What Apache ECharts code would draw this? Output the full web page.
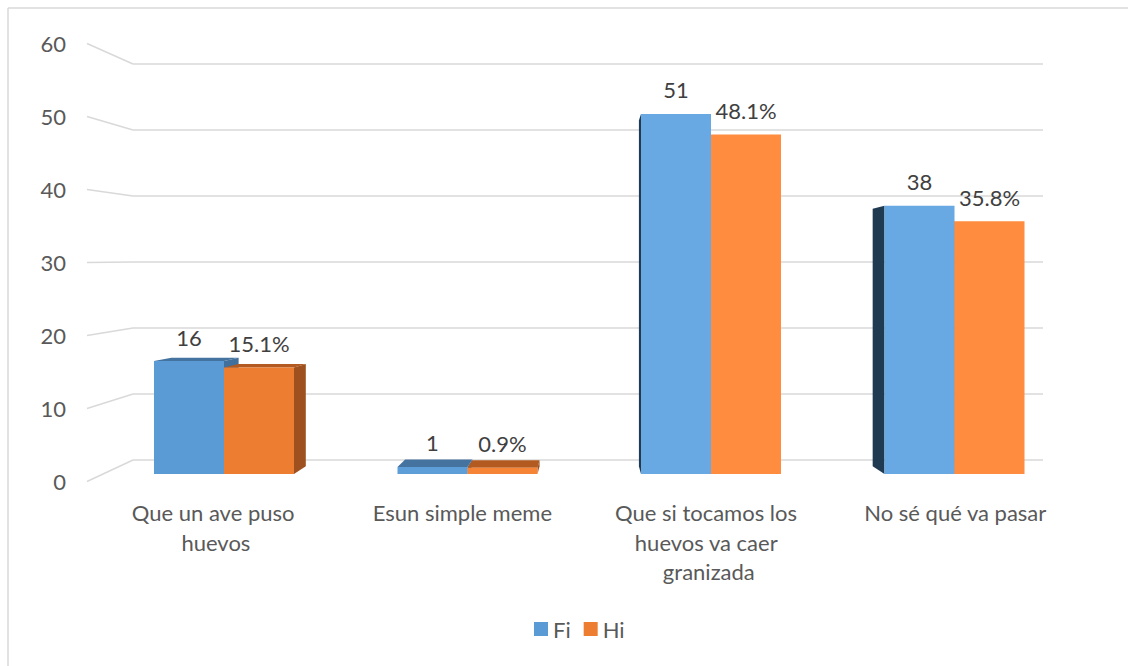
<!DOCTYPE html>
<html>
<head>
<meta charset="utf-8">
<script src="https://cdn.jsdelivr.net/npm/echarts@6/dist/echarts.min.js"></script>
<style>html,body{margin:0;padding:0;background:#fff;overflow:hidden}#c{width:1128px;height:666px}</style>
</head>
<body>
<div id="c"></div>
<script>
const categories = ['Que un ave puso huevos', 'Esun simple meme', 'Que si tocamos los huevos va caer granizada', 'No sé qué va pasar'];
const fiValues = [16, 1, 51, 38];
const hiValues = [15.1, 0.9, 48.1, 35.8];
const yTicks = [0, 10, 20, 30, 40, 50, 60];

const FONT = 'Lato, Calibri, Carlito, sans-serif';
const FS = 22;
const VX = 589, VY = 280, K = 0.04, BAR_RATIO = 0.2875;
const chart = echarts.init(document.getElementById('c'), null, {renderer: 'svg'});

function hex(c){return [1,3,5].map(i=>parseInt(c.substr(i,2),16));}
function mix(a,b,t){const A=hex(a),B=hex(b);return 'rgb('+A.map((v,i)=>Math.round(v+(B[i]-v)*t)).join(',')+')';}

function barRenderer(side, col, fmt){
  return function(params, api){
    const i = api.value(0), v = api.value(1);
    const base = api.coord([i, 0]);
    const topP = api.coord([i, v]);
    const band = api.size([1, 0])[0];
    const w = band * BAR_RATIO;
    const xl = side < 0 ? base[0] - w : base[0];
    const xr = xl + w;
    const yt = topP[1], yb = base[1];
    const back = (x, y) => [x + (VX - x) * K, y + (VY - y) * K];
    const t = Math.min(1, Math.max(0, ((xl + xr) / 2 - 350) / 330));
    const ch = [];
    if (VY < yt) ch.push({type:'polygon', z2:1, shape:{points:[[xl,yt],[xr,yt],back(xr,yt),back(xl,yt)]}, style:{fill: col.top}});
    if (VX > xr) ch.push({type:'polygon', z2:1, shape:{points:[[xr,yt],[xr,yb],back(xr,yb),back(xr,yt)]}, style:{fill: col.right}});
    if (VX < xl) ch.push({type:'polygon', z2:1, shape:{points:[[xl,yt],[xl,yb],back(xl,yb),back(xl,yt)]}, style:{fill: col.left}});
    ch.push({type:'rect', z2:10, shape:{x:xl, y:yt, width:w, height:yb-yt}, style:{fill: mix(col.front, col.light, t)}});
    ch.push({type:'text', z2:20, style:{text: fmt(v), x:(xl+xr)/2, y: yt - 24, align:'center', verticalAlign:'middle', fill:'#404040', font: FS + 'px ' + FONT}});
    return {type:'group', children: ch};
  };
}

function sideWallRenderer(params, api){
  const v = api.value(1);
  const p1 = api.coord([0, v]);
  const x2 = api.coord([1, v])[0];
  let y2 = p1[1];
  try { y2 = chart.convertToPixel({yAxisIndex: 0}, v); } catch (e) {}
  return {type:'line', shape:{x1:p1[0], y1:p1[1], x2:x2, y2:y2}, style:{stroke:'#D9D9D9', lineWidth:1.5}};
}

const labelStyle = {color:'#595959', fontSize:FS, fontFamily:FONT};

const option = {
  backgroundColor: '#fff',
  animation: false,
  graphic: [
    {type:'line', shape:{x1:8, y1:8, x2:1128, y2:8}, style:{stroke:'#D9D9D9', lineWidth:1.5}, silent:true},
    {type:'line', shape:{x1:8, y1:8, x2:8, y2:666}, style:{stroke:'#D9D9D9', lineWidth:1.5}, silent:true}
  ],
  grid: [
    {left:133, right:85, top:64, bottom:206},
    {left:87, width:46, top:43.5, bottom:184.5},
    {left:102.25, right:51.75, top:50.4, bottom:192},
    {left:92.7, right:49.5, top:50.4, bottom:192}
  ],
  xAxis: [
    {gridIndex:0, type:'value', min:0, max:1, show:false},
    {gridIndex:1, type:'value', min:0, max:1, show:false},
    {gridIndex:2, type:'category', data:categories, show:false},
    {gridIndex:3, type:'category', data:categories, axisLine:{show:false}, axisTick:{show:false},
      axisLabel:Object.assign({interval:0, margin:24, width:210, overflow:'break', lineHeight:29.5}, labelStyle)}
  ],
  yAxis: [
    {gridIndex:0, type:'value', min:0, max:60, interval:10, axisLabel:{show:false}, axisLine:{show:false}, axisTick:{show:false},
      splitLine:{show:true, lineStyle:{color:'#D9D9D9', width:1.5}}},
    {gridIndex:1, type:'value', min:0, max:60, interval:10, axisLine:{show:false}, axisTick:{show:false}, splitLine:{show:false},
      axisLabel:Object.assign({margin:21}, labelStyle)},
    {gridIndex:2, type:'value', min:0, max:60, interval:10, show:false},
    {gridIndex:3, type:'value', min:0, max:60, interval:10, show:false}
  ],
  legend: {
    data:['Fi','Hi'], left:529, top:613, icon:'rect', itemWidth:14, itemHeight:14, itemGap:13,
    textStyle:labelStyle, selectedMode:false
  },
  series: [
    {type:'custom', name:'sideWall', xAxisIndex:1, yAxisIndex:1, silent:true, data: yTicks.map(v => [0, v]),
      renderItem: sideWallRenderer, encode:{x:0, y:1}},
    {type:'custom', name:'Fi', xAxisIndex:2, yAxisIndex:2, itemStyle:{color:'#5B9BD5'}, encode:{x:0, y:1},
      data: fiValues.map((v, i) => [i, v]),
      renderItem: barRenderer(-1, {front:'#5B9BD5', light:'#69A9E3', top:'#44739F', right:'#41709C', left:'#203A52'}, v => String(v))},
    {type:'custom', name:'Hi', xAxisIndex:2, yAxisIndex:2, itemStyle:{color:'#ED7D31'}, encode:{x:0, y:1},
      data: hiValues.map((v, i) => [i, v]),
      renderItem: barRenderer(1, {front:'#ED7D31', light:'#FF8C3F', top:'#B25A20', right:'#9E511F', left:'#6A3410'}, v => v.toFixed(1) + '%')}
  ]
};
chart.setOption(option);
</script>
</body>
</html>
